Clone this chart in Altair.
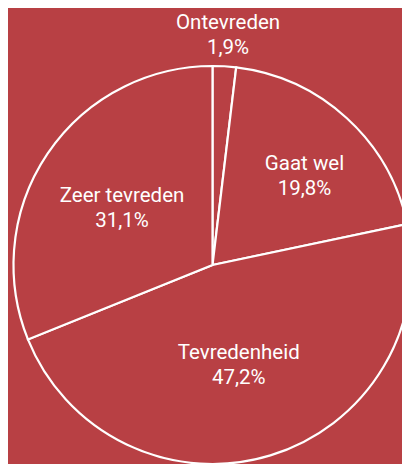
import altair as alt
import pandas as pd

categories = ["Ontevreden", "Gaat wel", "Tevredenheid", "Zeer tevreden"]
values = [1.9, 19.8, 47.2, 31.1]
pct_labels = ["1,9%", "19,8%", "47,2%", "31,1%"]

df = pd.DataFrame({
    "cat": categories,
    "value": values,
    "pct": pct_labels,
    "order": list(range(len(categories))),
})

BG = "#b84044"
CX, CY, R = 204.5, 257, 199
TOTAL = sum(values)
FS, LH = 20.5, 25

arcs = alt.Chart(df).mark_arc(radius=R, fill=BG, stroke="white", strokeWidth=2.2).encode(
    theta=alt.Theta("value:Q", stack=True, scale=alt.Scale(domain=[0, TOTAL])),
    order=alt.Order("order:Q"),
    x=alt.value(CX), y=alt.value(CY),
)

text_base = alt.Chart(df).transform_window(
    cum="sum(value)", sort=[alt.SortField("order")]
).transform_calculate(mid="datum.cum - datum.value / 2")


def label_layers(cat, r, dx=0, dy=0):
    out = []
    for field, off in (("cat", -LH / 2), ("pct", LH / 2)):
        out.append(
            text_base.transform_filter(alt.datum.cat == cat).mark_text(
                radius=r, dx=dx, dy=dy + off, color="white", font="Roboto",
                fontSize=FS, align="center", baseline="middle",
            ).encode(
                theta=alt.Theta("mid:Q", stack=None, scale=alt.Scale(domain=[0, TOTAL])),
                x=alt.value(CX), y=alt.value(CY), text=f"{field}:N",
            )
        )
    return out


layers = [arcs]
layers += label_layers("Ontevreden", 230.4, dx=1.8)
layers += label_layers("Gaat wel", 127.9, dx=5.6, dy=5.4)
layers += label_layers("Tevredenheid", 104, dx=-4, dy=1.1)
layers += label_layers("Zeer tevreden", 106.6, dx=-2.1, dy=3.2)

chart = alt.layer(*layers).properties(
    width=394, height=456,
    padding=0,
    autosize=alt.AutoSizeParams(type="none"),
    background=BG,
).configure_view(stroke=None)

chart.save("out.html", embed_options={"renderer": "svg", "actions": False})
